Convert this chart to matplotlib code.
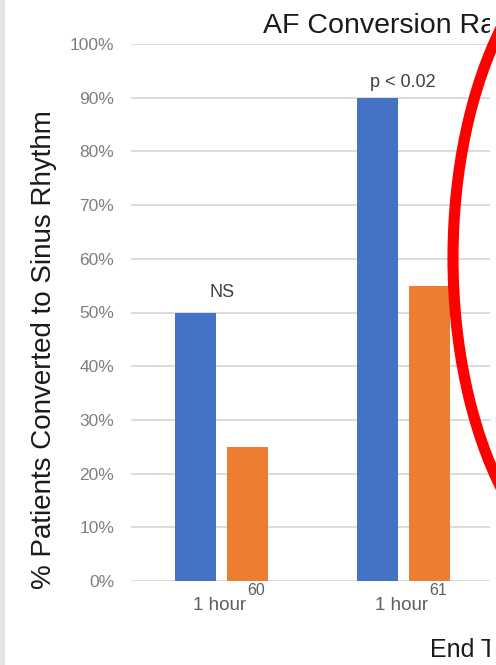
import matplotlib
matplotlib.use("Agg")
import matplotlib.pyplot as plt
from matplotlib.patches import Ellipse, Rectangle
from matplotlib.transforms import Bbox
import numpy as np

plt.rcParams["font.family"] = ["Liberation Sans", "DejaVu Sans"]

# Data
categories = ["1 hour", "1 hour"]
references = ["60", "61"]
series_a = [0.50, 0.90]   # blue bars
series_b = [0.25, 0.55]   # orange bars
significance = ["NS", "p < 0.02"]
sig_level = [0.537, 0.928]
yticks = np.arange(0, 1.01, 0.1)

W, H = 496, 665
fig = plt.figure(figsize=(W / 100, H / 100), dpi=100)
fig.patch.set_facecolor("white")

def fx(px):
    return px / W

def fy(py):
    return 1 - py / H

# Plot area
left, right, top, bottom = 131, 490, 44, 581
ax = fig.add_axes([fx(left), fy(bottom), (right - left) / W, (bottom - top) / H])
ax.set_facecolor("white")

cat_px = 181.5
x = np.arange(len(categories))
offset = 26 / cat_px
bw = 41 / cat_px
ax.bar(x - offset, series_a, width=bw, color="#4472C4", zorder=3)
ax.bar(x + offset, series_b, width=bw, color="#ED7D31", zorder=3)

for xi, txt, lvl in zip(x, significance, sig_level):
    ax.text(xi, lvl, txt, ha="center", va="center", fontsize=13, color="#404040")

ax.set_xlim(-0.5, -0.5 + (right - left) / cat_px)
ax.set_ylim(0, 1)
ax.set_yticks(yticks)
ax.set_yticklabels([f"{int(round(v * 100))}%" for v in yticks])
ax.set_xticks(x)
ax.set_xticklabels([])
ax.tick_params(axis="y", length=0, pad=12, labelsize=12.5, labelcolor="#7f7f7f")
ax.tick_params(axis="x", length=0)
ax.yaxis.grid(True, color="#d9d9d9", linewidth=1.3, zorder=0)
ax.set_axisbelow(True)
for s in ax.spines.values():
    s.set_visible(False)

# Category labels with reference superscripts
for xi, lab, ref in zip(x, categories, references):
    ax.annotate(lab, (xi, 0), xytext=(-2, -29), textcoords="offset pixels",
                ha="center", va="baseline", fontsize=13.5, color="#5f5f5f",
                annotation_clip=False)
    ax.annotate(ref, (xi, 0), xytext=(26, -14), textcoords="offset pixels",
                ha="left", va="baseline", fontsize=11.5, color="#5f5f5f",
                annotation_clip=False)

# Titles, cut at the slide edge
clip = Bbox.from_extents(0, 0, 490, H)
t1 = fig.text(fx(263), fy(33), "AF Conversion Ra", fontsize=20.5, color="#1a1a1a",
              ha="left", va="baseline")
t2 = fig.text(fx(430), fy(657), "End T", fontsize=18, color="#1a1a1a",
              ha="left", va="baseline")
for t in (t1, t2):
    t.set_clip_box(clip)
    t.set_clip_on(True)
fig.text(fx(44), fy(350), "% Patients Converted to Sinus Rhythm", fontsize=20,
         color="#1a1a1a", rotation=90, ha="center", va="center")

# Right-hand cut of the slide and left frame strip
fig.add_artist(Rectangle((fx(490), 0), fx(W - 490) + 0.01, 1.0, transform=fig.transFigure,
                         facecolor="white", edgecolor="none", zorder=5))
fig.add_artist(Rectangle((0, 0), fx(5), 1.0, transform=fig.transFigure,
                         facecolor="#e4e4e4", edgecolor="none", zorder=5))

# Red highlight ring
fig.add_artist(Ellipse((fx(623), fy(258)), 340 / W, 660 / H, transform=fig.transFigure,
                       facecolor="none", edgecolor="#ff0000", linewidth=8, zorder=6))

fig.savefig("out.png", dpi=100)
